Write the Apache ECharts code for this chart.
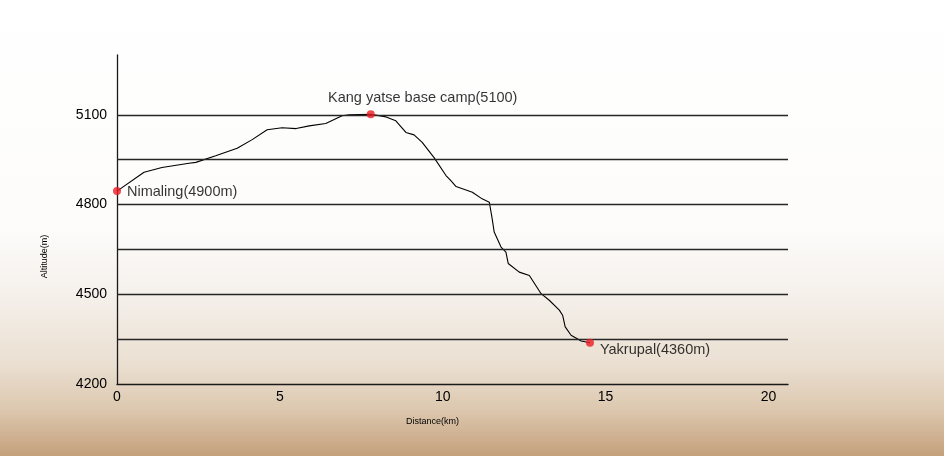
<!DOCTYPE html>
<html>
<head>
<meta charset="utf-8">
<script src="https://cdn.jsdelivr.net/npm/echarts@6/dist/echarts.min.js"></script>
<style>
html,body{margin:0;padding:0;background:#fff;}
#c{width:944px;height:456px;}
</style>
</head>
<body>
<div id="c"></div>
<script>
// distance (km) and altitude (m) along the trek profile
var distance = [0, 0.83, 1.38, 2.21, 2.42, 3.03, 3.69, 4.15, 4.61, 5.07, 5.50, 5.90, 6.41, 6.91, 7.13, 7.79, 8.26, 8.56, 8.87, 9.12, 9.37, 9.74, 10.10, 10.25, 10.41, 10.91, 11.21, 11.43, 11.51, 11.58, 11.79, 11.94, 12.01, 12.35, 12.66, 13.02, 13.27, 13.58, 13.68, 13.76, 13.94, 14.25, 14.52];
var altitude = [4845, 4908, 4924, 4938, 4941, 4963, 4988, 5017, 5050, 5057, 5054, 5063, 5071, 5097, 5100, 5102, 5093, 5080, 5041, 5033, 5008, 4956, 4897, 4880, 4860, 4841, 4819, 4808, 4758, 4708, 4658, 4641, 4603, 4574, 4563, 4502, 4480, 4447, 4430, 4391, 4363, 4344, 4338];

// named waypoints
var placeNames = ['Nimaling(4900m)', 'Kang yatse base camp(5100)', 'Yakrupal(4360m)'];
var placeDistance = [0, 7.79, 14.52];
var placeAltitude = [4845, 5102, 4338];

// horizontal reference lines
var gridValues = [4350, 4500, 4650, 4800, 4950, 5100];
var yLabelValues = [4200, 4500, 4800, 5100];
var xLabelValues = [0, 5, 10, 15, 20];

var profile = distance.map(function (d, i) { return [d, altitude[i]]; });
var places = placeNames.map(function (n, i) { return { name: n, value: [placeDistance[i], placeAltitude[i]] }; });

var font = 'Liberation Sans, Arial, Helvetica, sans-serif';
var chart = echarts.init(document.getElementById('c'));
chart.setOption({
  backgroundColor: {
    type: 'linear', x: 0, y: 0, x2: 0, y2: 1,
    colorStops: [
      { offset: 0, color: '#ffffff' },
      { offset: 0.5, color: '#fdfcfb' },
      { offset: 0.66, color: '#f4efe9' },
      { offset: 0.8, color: '#eadfd1' },
      { offset: 0.9, color: '#dcc7ae' },
      { offset: 1, color: '#c4a07b' }
    ]
  },
  animation: false,
  grid: { left: 117, right: 156, top: 55, bottom: 72 },
  xAxis: {
    type: 'value', min: 0, max: 20.6, interval: 5,
    name: 'Distance(km)', nameLocation: 'middle', nameGap: 33,
    nameTextStyle: { fontSize: 9, color: '#000', fontFamily: font, padding: [0, 40, 0, 0] },
    axisLine: { show: true, lineStyle: { color: '#1a1a1a', width: 1.3 } },
    axisTick: { show: false },
    splitLine: { show: false },
    axisLabel: {
      fontSize: 14, color: '#000', fontFamily: font, margin: 6,
      formatter: function (v) { return xLabelValues.indexOf(v) >= 0 ? String(v) : ''; }
    }
  },
  yAxis: {
    type: 'value', min: 4200, max: 5300, interval: 150,
    name: 'Altitude(m)', nameLocation: 'middle', nameGap: 68, nameRotate: 90,
    nameTextStyle: { fontSize: 9, color: '#000', fontFamily: font, padding: [0, 74, 0, 0] },
    axisLine: { show: true, lineStyle: { color: '#1a1a1a', width: 1.3 } },
    axisTick: { show: false },
    splitLine: { show: false },
    axisLabel: {
      fontSize: 14, color: '#000', fontFamily: font, margin: 10,
      formatter: function (v) { return yLabelValues.indexOf(v) >= 0 ? String(v) : ''; }
    }
  },
  series: [
    {
      type: 'line', data: profile, showSymbol: false, symbol: 'none',
      lineStyle: { color: '#000', width: 1.1 },
      silent: true, z: 3,
      markLine: {
        silent: true, symbol: 'none', label: { show: false },
        lineStyle: { color: '#262626', width: 1.3, type: 'solid' },
        data: gridValues.map(function (g) { return { yAxis: g }; })
      }
    },
    {
      type: 'scatter', data: places, symbolSize: 8, z: 5,
      itemStyle: { color: '#ec1b24' },
      label: {
        show: true, fontSize: 14.5, color: '#000', fontFamily: font,
        formatter: function (p) { return p.name; },
        position: 'right', distance: 6
      },
      labelLayout: function (p) {
        if (p.dataIndex === 1) {
          return { x: p.rect.x + p.rect.width / 2 + 52, y: p.rect.y - 5, align: 'center', verticalAlign: 'bottom' };
        }
        if (p.dataIndex === 2) {
          return { dy: 7 };
        }
        return { dy: 1 };
      }
    }
  ]
});
</script>
</body>
</html>
